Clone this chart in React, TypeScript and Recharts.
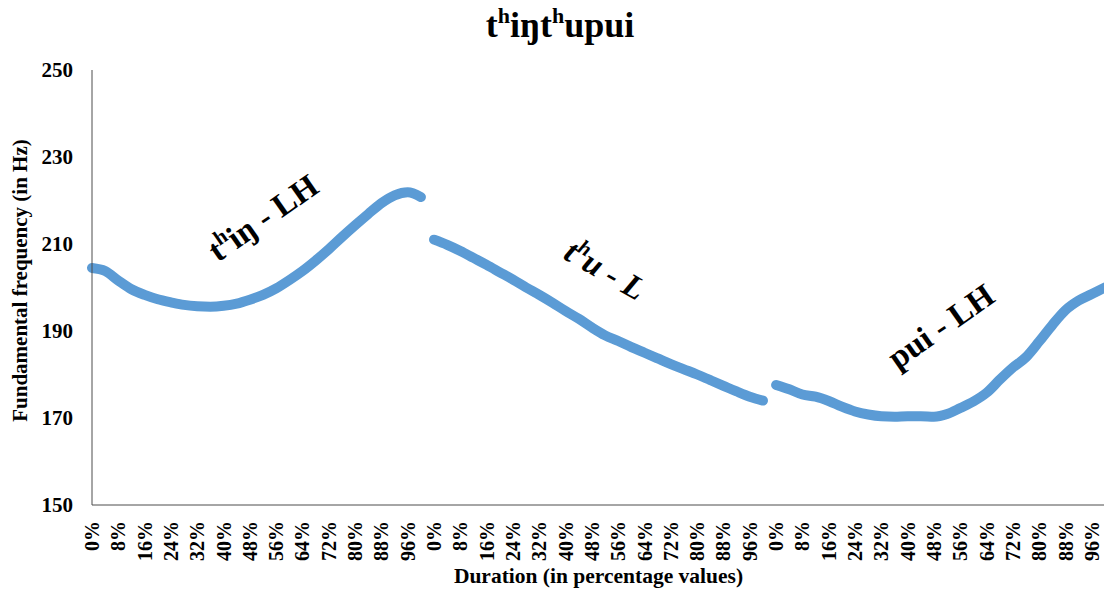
import React from 'react';
import { LineChart, Line, XAxis, YAxis, ReferenceDot } from 'recharts';

const pctLabels = ['0%', '4%', '8%', '12%', '16%', '20%', '24%', '28%', '32%', '36%', '40%', '44%', '48%', '52%', '56%', '60%', '64%', '68%', '72%', '76%', '80%', '84%', '88%', '92%', '96%', '100%'];

const thingValues = [204.5, 203.8, 201.6, 199.6, 198.3, 197.3, 196.6, 196.0, 195.7, 195.6, 195.8, 196.3, 197.2, 198.3, 199.8, 201.7, 203.8, 206.2, 208.8, 211.6, 214.3, 216.9, 219.4, 221.2, 221.9, 220.8];
const thuValues = [211.0, 209.8, 208.4, 206.8, 205.2, 203.5, 201.8, 200.0, 198.3, 196.5, 194.6, 192.8, 190.8, 189.0, 187.7, 186.3, 185.0, 183.7, 182.4, 181.2, 180.0, 178.7, 177.4, 176.1, 174.9, 174.0];
const puiValues = [177.6, 176.6, 175.4, 174.9, 173.9, 172.6, 171.5, 170.8, 170.4, 170.3, 170.4, 170.4, 170.3, 170.9, 172.3, 173.8, 175.8, 178.8, 181.6, 184.0, 187.6, 191.4, 194.8, 197.0, 198.5, 200.0];

const yTicks = [150, 170, 190, 210, 230, 250];

const annoParts = [['t', 'h', 'iŋ - LH'], ['t', 'h', 'u - L'], ['', '', 'pui - LH']];
const annoIdx = [13, 39, 65];
const annoHz = [216.0, 204.0, 189.0];
const annoAngle = [-35, 30, -35];
const annoItalic = [false, true, false];

const SEG = pctLabels.length;
const data = Array.from({ length: SEG * 3 }, (_, i) => ({
  idx: i,
  s1: i < SEG ? thingValues[i] : null,
  s2: i >= SEG && i < 2 * SEG ? thuValues[i - SEG] : null,
  s3: i >= 2 * SEG ? puiValues[i - 2 * SEG] : null,
}));

const FONT = 'Liberation Serif, DejaVu Serif, serif';
const LINE_COLOR = '#5B9BD5';
const AXIS_COLOR = '#4d4d4d';

const XTick = (props: any) => {
  const { x, y, payload } = props;
  return (
    <text
      x={x}
      y={y}
      transform={`rotate(-90 ${x} ${y})`}
      textAnchor="end"
      dy="0.35em"
      style={{ fontFamily: FONT }}
      fontSize={20}
      fontWeight="bold"
      fill="#000"
    >
      {pctLabels[payload.value % SEG]}
    </text>
  );
};

const YTitle = (props: any) => {
  const { viewBox } = props;
  const cx = viewBox.x + 20;
  const cy = viewBox.y + viewBox.height / 2 - 7;
  return (
    <text
      x={cx}
      y={cy}
      transform={`rotate(-90 ${cx} ${cy})`}
      textAnchor="middle"
      dy="0.35em"
      style={{ fontFamily: FONT }}
      fontSize={21}
      fontWeight="bold"
      fill="#000"
    >
      Fundamental frequency (in Hz)
    </text>
  );
};

const XTitle = (props: any) => {
  const { viewBox } = props;
  const cx = viewBox.x + viewBox.width / 2;
  const cy = viewBox.y + viewBox.height - 9;
  return (
    <text x={cx} y={cy} textAnchor="middle" style={{ fontFamily: FONT }} fontSize={21.5} fontWeight="bold" fill="#000">
      Duration (in percentage values)
    </text>
  );
};

const Anno = (props: any) => {
  const { viewBox, parts, rot, italic } = props;
  const cx = viewBox.x + (viewBox.width || 0) / 2;
  const cy = viewBox.y + (viewBox.height || 0) / 2;
  return (
    <g transform={`rotate(${rot} ${cx} ${cy})`}>
      <text
        x={cx}
        y={cy}
        dy={11}
        textAnchor="middle"
        style={{ fontFamily: FONT }}
        fontSize={33}
        fontWeight="bold"
        fontStyle={italic ? 'italic' : 'normal'}
        fill="#000"
      >
        {parts[0] ? <tspan>{parts[0]}</tspan> : null}
        {parts[1] ? (
          <tspan fontSize={21} dy={-13}>
            {parts[1]}
          </tspan>
        ) : null}
        <tspan dy={parts[1] ? 13 : 0}>{parts[2]}</tspan>
      </text>
    </g>
  );
};

export default function App() {
  return (
    <div style={{ position: 'absolute', left: 0, top: 0, width: 1104, height: 592, overflow: 'hidden', background: '#fff' }}>
      <svg width={1104} height={60} style={{ position: 'absolute', left: 0, top: 0, pointerEvents: 'none' }}>
        <text x={560} y={37} textAnchor="middle" style={{ fontFamily: FONT }} fontSize={36} fontWeight="bold" fill="#000">
          <tspan>t</tspan>
          <tspan fontSize={22} dy={-14}>h</tspan>
          <tspan dy={14}>iŋt</tspan>
          <tspan fontSize={22} dy={-14}>h</tspan>
          <tspan dy={14}>upui</tspan>
        </text>
      </svg>
      <div style={{ position: 'absolute', left: 0, top: 0 }}>
        <LineChart width={1115} height={592} data={data} margin={{ top: 70, right: 10, bottom: 0, left: 0 }}>
          <XAxis
            dataKey="idx"
            type="category"
            interval={1}
            tickLine={false}
            tickSize={0}
            tickMargin={16}
            height={87}
            padding={{ left: 0, right: 0 }}
            axisLine={{ stroke: AXIS_COLOR, strokeWidth: 1 }}
            tick={<XTick />}
            label={{ content: XTitle }}
          />
          <YAxis
            domain={[150, 250]}
            ticks={yTicks}
            width={92}
            tickLine={false}
            tickSize={0}
            tickMargin={19}
            axisLine={{ stroke: AXIS_COLOR, strokeWidth: 1 }}
            tick={{ style: { fontFamily: FONT }, fontSize: 21, fontWeight: 'bold', fill: '#000' }}
            label={{ content: YTitle }}
          />
          <Line type="monotone" dataKey="s1" stroke={LINE_COLOR} strokeWidth={10} strokeLinecap="round" strokeLinejoin="round" dot={false} activeDot={false} isAnimationActive={false} connectNulls={false} />
          <Line type="monotone" dataKey="s2" stroke={LINE_COLOR} strokeWidth={10} strokeLinecap="round" strokeLinejoin="round" dot={false} activeDot={false} isAnimationActive={false} connectNulls={false} />
          <Line type="monotone" dataKey="s3" stroke={LINE_COLOR} strokeWidth={10} strokeLinecap="round" strokeLinejoin="round" dot={false} activeDot={false} isAnimationActive={false} connectNulls={false} />
          {annoParts.map((parts, k) => (
            <ReferenceDot
              key={k}
              x={annoIdx[k]}
              y={annoHz[k]}
              r={0}
              fill="none"
              stroke="none"
              ifOverflow="visible"
              label={<Anno parts={parts} rot={annoAngle[k]} italic={annoItalic[k]} />}
            />
          ))}
        </LineChart>
      </div>
    </div>
  );
}
